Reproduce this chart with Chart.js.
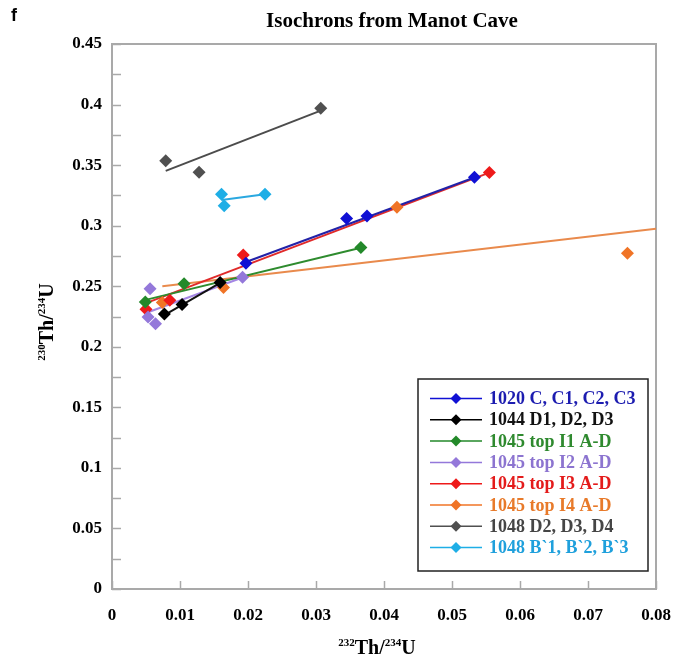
<!DOCTYPE html>
<html><head><meta charset="utf-8">
<script src="https://cdn.jsdelivr.net/npm/chart.js@4"></script>
<style>html,body{margin:0;padding:0;background:#fff}#wrap{width:689px;height:664px;position:relative}</style>
</head><body><div id="wrap"><canvas id="c" width="689" height="664"></canvas></div>
<script>
// ---- data ----
const seriesLabels = ['1020 C, C1, C2, C3','1044 D1, D2, D3','1045 top I1 A-D','1045 top I2 A-D','1045 top I3 A-D','1045 top I4 A-D','1048 D2, D3, D4','1048 B`1, B`2, B`3'];
const x1020 = [0.0197, 0.0345, 0.0375, 0.0533];
const y1020 = [0.269, 0.306, 0.308, 0.340];
const x1044 = [0.0077, 0.0103, 0.0159];
const y1044 = [0.227, 0.235, 0.253];
const xI1 = [0.0049, 0.0106, 0.0366];
const yI1 = [0.237, 0.252, 0.282];
const xI2 = [0.0056, 0.0053, 0.0064, 0.0192];
const yI2 = [0.248, 0.2245, 0.219, 0.2575];
const xI3 = [0.0050, 0.0085, 0.0193, 0.0555];
const yI3 = [0.231, 0.2385, 0.2758, 0.3438];
const xI4 = [0.0074, 0.0164, 0.0419, 0.0758];
const yI4 = [0.2365, 0.249, 0.3152, 0.2772];
const x1048D = [0.0079, 0.0128, 0.0307];
const y1048D = [0.3537, 0.3441, 0.3970];
const x1048B = [0.0161, 0.0165, 0.0225];
const y1048B = [0.3259, 0.3165, 0.3259];
// isochron (trend) lines: [start, end]
const lineX1020 = [0.0197, 0.0533], lineY1020 = [0.2700, 0.3398];
const lineX1044 = [0.0077, 0.0159], lineY1044 = [0.2262, 0.2527];
const lineXI1 = [0.0048, 0.0366], lineYI1 = [0.2385, 0.2818];
const lineXI2 = [0.0053, 0.0192], lineYI2 = [0.2285, 0.2572];
const lineXI3 = [0.0050, 0.0555], lineYI3 = [0.2360, 0.3438];
const lineXI4 = [0.0074, 0.0800], lineYI4 = [0.2500, 0.2975];
const lineX1048D = [0.0079, 0.0307], lineY1048D = [0.3452, 0.3950];
const lineX1048B = [0.0161, 0.0225], lineY1048B = [0.3212, 0.3260];
const xTickLabels = ['0','0.01','0.02','0.03','0.04','0.05','0.06','0.07','0.08'];
const yTickLabels = ['0','0.05','0.1','0.15','0.2','0.25','0.3','0.35','0.4','0.45'];

// ---- styles ----
const pointColors = ['#1010d4','#000000','#23892a','#9478da','#ee1a1a','#f07426','#505050','#1eaee6'];
const lineColors  = ['#2222a8','#111111','#2e8b2e','#a486e4','#e02a2a','#e98a4c','#4c4c4c','#2aa8e0'];
const textColors  = ['#1c1cb0','#111111','#2f8a2f','#8c74d0','#e41b1b','#e87a2a','#454545','#1fa0dc'];

const ptX = [x1020,x1044,xI1,xI2,xI3,xI4,x1048D,x1048B];
const ptY = [y1020,y1044,yI1,yI2,yI3,yI4,y1048D,y1048B];
const lnX = [lineX1020,lineX1044,lineXI1,lineXI2,lineXI3,lineXI4,lineX1048D,lineX1048B];
const lnY = [lineY1020,lineY1044,lineYI1,lineYI2,lineYI3,lineYI4,lineY1048D,lineY1048B];

const datasets = [];
seriesLabels.forEach((lab, i) => {
  datasets.push({
    label: lab,
    data: ptX[i].map((x, j) => ({x: x, y: ptY[i][j]})),
    showLine: false,
    pointStyle: 'rectRot',
    pointRadius: 6.5,
    pointBackgroundColor: pointColors[i],
    pointBorderColor: pointColors[i],
    pointBorderWidth: 0
  });
});
seriesLabels.forEach((lab, i) => {
  datasets.push({
    label: lab + ' isochron',
    data: lnX[i].map((x, j) => ({x: x, y: lnY[i][j]})),
    showLine: true,
    borderColor: lineColors[i],
    borderWidth: 2,
    pointRadius: 0,
    fill: false
  });
});

const SERIF = "'Liberation Serif','Times New Roman',serif";
const AXIS_GRAY = '#a9a9a9';

function drawRich(ctx, parts, big, small) {
  let w = 0;
  parts.forEach(p => { ctx.font = 'bold ' + (p.sup ? small : big) + 'px ' + SERIF; p.w = ctx.measureText(p.t).width; w += p.w; });
  let x = -w / 2;
  parts.forEach(p => {
    ctx.font = 'bold ' + (p.sup ? small : big) + 'px ' + SERIF;
    ctx.fillText(p.t, x, p.sup ? -big * 0.42 : 0);
    x += p.w;
  });
}

const decor = {
  id: 'decor',
  beforeDatasetsDraw(chart) {
    const {ctx, chartArea: a, scales} = chart;
    ctx.save();
    ctx.strokeStyle = AXIS_GRAY;
    ctx.lineWidth = 2;
    ctx.strokeRect(a.left, a.top, a.right - a.left, a.bottom - a.top);
    ctx.lineWidth = 1.5;
    scales.y.ticks.forEach(t => {
      const py = Math.round(scales.y.getPixelForValue(t.value)) + 0.5;
      ctx.beginPath(); ctx.moveTo(a.left, py); ctx.lineTo(a.left + 9, py); ctx.stroke();
    });
    scales.x.ticks.forEach(t => {
      const px = Math.round(scales.x.getPixelForValue(t.value)) + 0.5;
      ctx.beginPath(); ctx.moveTo(px, a.bottom); ctx.lineTo(px, a.bottom - 8); ctx.stroke();
    });
    ctx.restore();
  },
  afterDraw(chart) {
    const {ctx} = chart;
    ctx.save();
    ctx.fillStyle = '#000';
    ctx.textBaseline = 'alphabetic';
    // panel letter
    ctx.font = "bold 18px 'Liberation Sans', Arial, sans-serif";
    ctx.textAlign = 'left';
    ctx.fillText('f', 11, 21);
    // title
    ctx.font = 'bold 21px ' + SERIF;
    ctx.textAlign = 'center';
    ctx.fillText('Isochrons from Manot Cave', 392, 27);
    // axis titles
    ctx.textAlign = 'left';
    ctx.save(); ctx.translate(377, 654);
    drawRich(ctx, [{t:'232',sup:true},{t:'Th/'},{t:'234',sup:true},{t:'U'}], 20, 11);
    ctx.restore();
    ctx.save(); ctx.translate(53, 322); ctx.rotate(-Math.PI / 2);
    drawRich(ctx, [{t:'230',sup:true},{t:'Th/'},{t:'234',sup:true},{t:'U'}], 20, 11);
    ctx.restore();
    // legend
    const L = 418, T = 379, R = 648, B = 571;
    ctx.fillStyle = '#fff';
    ctx.fillRect(L, T, R - L, B - T);
    ctx.strokeStyle = '#222';
    ctx.lineWidth = 1.5;
    ctx.strokeRect(L, T, R - L, B - T);
    ctx.textBaseline = 'middle';
    seriesLabels.forEach((lab, i) => {
      const cy = 398.5 + i * 21.3;
      ctx.strokeStyle = pointColors[i];
      ctx.lineWidth = 1.5;
      ctx.beginPath(); ctx.moveTo(430, cy); ctx.lineTo(482, cy); ctx.stroke();
      ctx.fillStyle = pointColors[i];
      ctx.beginPath();
      ctx.moveTo(456, cy - 5.5); ctx.lineTo(461.5, cy); ctx.lineTo(456, cy + 5.5); ctx.lineTo(450.5, cy); ctx.closePath(); ctx.fill();
      ctx.fillStyle = textColors[i];
      ctx.font = 'bold 18px ' + SERIF;
      ctx.textAlign = 'left';
      ctx.fillText(lab, 489, cy + 1);
    });
    ctx.restore();
  }
};

new Chart(document.getElementById('c'), {
  type: 'scatter',
  data: { datasets: datasets },
  options: {
    responsive: false,
    animation: false,
    devicePixelRatio: 1,
    layout: { padding: { top: 44, right: 33, left: 0, bottom: 0 } },
    plugins: { legend: { display: false }, tooltip: { enabled: false }, title: { display: false } },
    scales: {
      x: {
        type: 'linear', min: 0, max: 0.08,
        grid: { display: false, drawTicks: false },
        border: { display: false },
        ticks: {
          stepSize: 0.01, padding: 16, maxRotation: 0, autoSkip: false,
          color: '#000', font: { family: SERIF, size: 17, weight: 'bold' },
          callback: (v, i) => xTickLabels[i]
        },
        afterFit: s => { s.height = 75; }
      },
      y: {
        type: 'linear', min: 0, max: 0.45,
        grid: { display: false, drawTicks: false },
        border: { display: false },
        ticks: {
          stepSize: 0.025, padding: 10, autoSkip: false,
          color: '#000', font: { family: SERIF, size: 17, weight: 'bold' },
          callback: (v, i) => (i % 2 === 0 ? yTickLabels[i / 2] : '')
        },
        afterFit: s => { s.width = 112; }
      }
    }
  },
  plugins: [decor]
});
</script>
</body></html>
